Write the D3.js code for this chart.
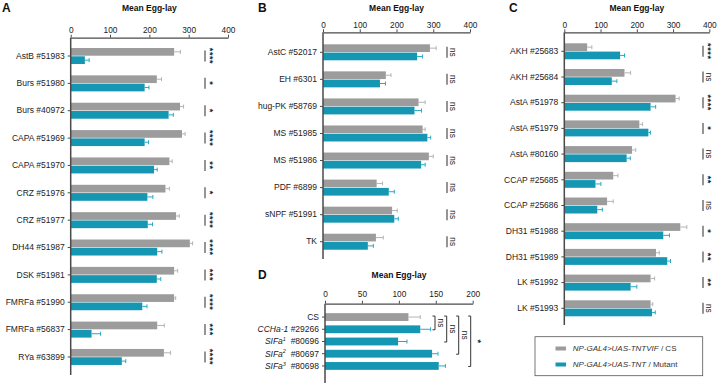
<!DOCTYPE html>
<html>
<head>
<meta charset="utf-8">
<script src="https://cdn.jsdelivr.net/npm/d3@7"></script>
<style>
  body { margin: 0; background: #fff; }
  svg { display: block; font-family: "Liberation Sans", Arial, sans-serif; }
</style>
</head>
<body>
<div id="chart"></div>
<script>
// Données (Mean Egg-lay, contrôle gris vs mutant bleu)
const catsA = ["AstB #51983", "Burs #51980", "Burs #40972", "CAPA #51969", "CAPA #51970", "CRZ #51976",
  "CRZ #51977", "DH44 #51987", "DSK #51981", "FMRFa #51990", "FMRFa #56837", "RYa #63899"]
const ctrlA = [263, 219, 278, 283, 251, 241, 268, 303, 263, 263, 220, 237]
const ctrlErrA = [16, 12, 9, 8, 7, 10, 8, 7, 9, 4, 18, 17]
const mutA = [36, 188, 249, 188, 212, 195, 196, 220, 219, 182, 53, 130]
const mutErrA = [11, 11, 12, 10, 8, 14, 12, 12, 10, 12, 23, 10]
const sigA = ["****", "*", "*", "****", "**", "*", "****", "****", "***", "****", "***", "****"]

const catsB = ["AstC #52017", "EH #6301", "hug-PK #58769", "MS #51985", "MS #51986", "PDF #6899", "sNPF #51991", "TK"]
const ctrlB = [291, 171, 260, 271, 288, 146, 188, 144]
const ctrlErrB = [17, 14, 18, 7, 12, 16, 14, 20]
const mutB = [256, 155, 249, 284, 267, 179, 194, 122]
const mutErrB = [15, 15, 19, 9, 11, 15, 11, 15]
const sigB = ["ns", "ns", "ns", "ns", "ns", "ns", "ns", "ns"]

const catsC = ["AKH #25683", "AKH #25684", "AstA #51978", "AstA #51979", "AstA #80160", "CCAP #25685",
  "CCAP #25686", "DH31 #51988", "DH31 #51989", "LK  #51992", "LK #51993"]
const ctrlC = [63, 166, 307, 207, 187, 135, 118, 320, 253, 238, 238]
const ctrlErrC = [13, 17, 10, 9, 10, 13, 17, 18, 9, 11, 6]
const mutC = [154, 131, 238, 232, 172, 86, 91, 273, 284, 183, 242]
const mutErrC = [12, 14, 14, 6, 10, 15, 14, 17, 9, 17, 9]
const sigC = ["****", "ns", "****", "*", "ns", "**", "ns", "*", "**", "**", "ns"]

// Panneau D : une barre par génotype
const geneD = ["CS", "CCHa-1", "SIFa", "SIFa", "SIFa"]
const supD = ["", "", "1", "2", "3"]
const stockD = ["", " #29266", "  #80696", "  #80697", "  #80698"]
const valD = [113, 129, 99, 145, 154]
const errD = [16, 14, 12, 8, 9]
const bracketD = [{ to: 1, label: "ns" }, { to: 2, label: "ns" }, { to: 3, label: "ns" }, { to: 4, label: "*" }]

const ticks400 = [0, 100, 200, 300, 400]
const ticks200 = [0, 50, 100, 150, 200]

const C = {
  gray: "#9c9c9c", grayErr: "#b4b4b4",
  teal: "#1597b3", tealErr: "#27a9c4",
  axis: "#4a4a4a", text: "#222", sig: "#7a7a7a"
}

const svg = d3.select("#chart").append("svg")
  .attr("width", 718).attr("height", 383).attr("viewBox", "0 0 718 383")

function axisTopFor(g, x, ticks, axisY, pad) {
  const ax = g.append("g")
    .attr("transform", `translate(0,${axisY})`)
    .call(d3.axisTop(x).tickValues(ticks).tickSize(3).tickSizeOuter(0).tickPadding(pad))
  ax.select(".domain").attr("stroke", C.axis).attr("stroke-width", 1.3)
  ax.selectAll(".tick line").attr("stroke", C.axis)
  ax.selectAll(".tick text").attr("font-size", 8.3).attr("fill", C.text)
    .attr("font-family", "Liberation Sans, Arial, sans-serif")
}

function header(letter, lx, ly, title, tx, ty) {
  svg.append("text").attr("x", lx).attr("y", ly)
    .attr("font-size", 12).attr("font-weight", 700).attr("fill", "#111").text(letter)
  svg.append("text").attr("x", tx).attr("y", ty).attr("text-anchor", "middle")
    .attr("font-size", 8.5).attr("font-weight", 700).attr("fill", "#111").text(title)
}

function errBar(g, x, yc, v, e, color) {
  g.append("line").attr("x1", x(v)).attr("x2", x(v + e)).attr("y1", yc).attr("y2", yc)
    .attr("stroke", color).attr("stroke-width", 1)
  g.append("line").attr("x1", x(v + e)).attr("x2", x(v + e)).attr("y1", yc - 2).attr("y2", yc + 2)
    .attr("stroke", color).attr("stroke-width", 1)
}

function sigMark(g, sx, yc, s) {
  g.append("line").attr("x1", sx).attr("x2", sx).attr("y1", yc - 5.5).attr("y2", yc + 5.5)
    .attr("stroke", C.sig).attr("stroke-width", 1.6)
  const isNs = s === "ns"
  g.append("text")
    .attr("transform", `translate(${sx + (isNs ? 3 : 1.5)},${yc}) rotate(90)`)
    .attr("text-anchor", "middle")
    .attr("font-size", isNs ? 8.3 : 9)
    .attr("font-weight", isNs ? 400 : 700)
    .attr("letter-spacing", isNs ? 0 : 0.6)
    .attr("fill", C.text)
    .text(s)
}

// Panneau à deux barres par ligne (A, B, C)
function pairPanel(p) {
  const g = svg.append("g")
  const x = d3.scaleLinear().domain([0, 400]).range([p.x0, p.x400])
  const n = p.cats.length
  const y = d3.scaleBand().domain(p.cats)
    .range([p.firstRow - p.step / 2, p.firstRow - p.step / 2 + n * p.step])
  const inner = d3.scaleBand().domain(["ctrl", "mut"]).range([-8, 8]).paddingInner(0.07)

  header(p.letter, p.lx, 12, "Mean Egg-lay", (p.x0 + p.x400) / 2, 11)
  axisTopFor(g, x, ticks400, p.axisY, p.pad)

  const rows = p.cats.map((c, i) => ({
    c, ctrl: p.ctrl[i], ctrlErr: p.ctrlErr[i], mut: p.mut[i], mutErr: p.mutErr[i], sig: p.sig[i]
  }))

  rows.forEach(d => {
    const yc = y(d.c) + y.bandwidth() / 2
    g.append("rect").attr("x", x(0)).attr("y", yc + inner("ctrl"))
      .attr("width", x(d.ctrl) - x(0)).attr("height", inner.bandwidth()).attr("fill", C.gray)
    g.append("rect").attr("x", x(0)).attr("y", yc + inner("mut"))
      .attr("width", x(d.mut) - x(0)).attr("height", inner.bandwidth()).attr("fill", C.teal)
    errBar(g, x, yc + inner("ctrl") + inner.bandwidth() / 2, d.ctrl, d.ctrlErr, C.grayErr)
    errBar(g, x, yc + inner("mut") + inner.bandwidth() / 2, d.mut, d.mutErr, C.tealErr)
    sigMark(g, p.sigX, yc, d.sig)
  })

  const ly = g.append("g").attr("transform", `translate(${x(0)},0)`)
    .call(d3.axisLeft(y).tickSize(3).tickSizeOuter(0).tickPadding(3))
  ly.select(".domain").remove()
  ly.selectAll(".tick line").attr("stroke", C.axis)
  ly.selectAll(".tick text").attr("font-size", 8.5).attr("fill", C.text)
    .attr("font-family", "Liberation Sans, Arial, sans-serif")
  g.append("line").attr("x1", x(0)).attr("x2", x(0)).attr("y1", p.axisY).attr("y2", p.axisBottom)
    .attr("stroke", C.axis).attr("stroke-width", 1.5)
}

pairPanel({ letter: "A", lx: 2, cats: catsA, ctrl: ctrlA, ctrlErr: ctrlErrA, mut: mutA, mutErr: mutErrA, sig: sigA,
  x0: 70.7, x400: 228, axisY: 37.7, pad: 2, firstRow: 56, step: 27.36, axisBottom: 375, sigX: 205 })
pairPanel({ letter: "B", lx: 258, cats: catsB, ctrl: ctrlB, ctrlErr: ctrlErrB, mut: mutB, mutErr: mutErrB, sig: sigB,
  x0: 323, x400: 470, axisY: 32.3, pad: 1, firstRow: 52.3, step: 27.06, axisBottom: 259, sigX: 447 })
pairPanel({ letter: "C", lx: 509, cats: catsC, ctrl: ctrlC, ctrlErr: ctrlErrC, mut: mutC, mutErr: mutErrC, sig: sigC,
  x0: 564.3, x400: 709.3, axisY: 32.3, pad: 1, firstRow: 51.3, step: 25.7, axisBottom: 325, sigX: 703 })

// --- Panneau D ---
{
  const g = svg.append("g")
  const x = d3.scaleLinear().domain([0, 200]).range([325, 472.7])
  const idx = valD.map((_, i) => i)
  const step = 13.1
  const y = d3.scaleBand().domain(idx).range([315.3 - step / 2, 315.3 - step / 2 + idx.length * step]).padding(0.36)
  const yc = i => y(i) + y.bandwidth() / 2

  header("D", 258, 279, "Mean Egg-lay", 399, 278)
  axisTopFor(g, x, ticks200, 303.7, 4)

  idx.forEach(i => {
    const isCtrl = i === 0
    g.append("rect").attr("x", x(0)).attr("y", y(i))
      .attr("width", x(valD[i]) - x(0)).attr("height", y.bandwidth())
      .attr("fill", isCtrl ? C.gray : C.teal)
    errBar(g, x, yc(i), valD[i], errD[i], isCtrl ? C.grayErr : C.tealErr)
  })

  const ly = g.append("g").attr("transform", `translate(${x(0)},0)`)
    .call(d3.axisLeft(y).tickSize(3).tickSizeOuter(0).tickFormat(""))
  ly.select(".domain").remove()
  ly.selectAll(".tick line").attr("stroke", C.axis)
  g.append("line").attr("x1", x(0)).attr("x2", x(0)).attr("y1", 303.7).attr("y2", 383)
    .attr("stroke", C.axis).attr("stroke-width", 1.5)

  idx.forEach(i => {
    const t = g.append("text").attr("x", x(0) - 6).attr("y", yc(i)).attr("dy", "0.34em")
      .attr("text-anchor", "end").attr("font-size", 8.5).attr("fill", C.text)
    t.append("tspan").attr("font-style", i === 0 ? "normal" : "italic").text(geneD[i])
    if (supD[i]) t.append("tspan").attr("font-style", "italic").attr("font-size", 5.5)
      .attr("dy", "-0.6em").text(supD[i])
    if (stockD[i]) t.append("tspan").attr("dy", supD[i] ? "0.39em" : 0).text(stockD[i])
      .attr("xml:space", "preserve")
  })

  // Crochets de comparaison au CS
  const bx = [435, 446.7, 458.7, 470.7]
  bracketD.forEach((b, k) => {
    const y1 = yc(0) - 1, y2 = yc(b.to) + 0.5
    g.append("path")
      .attr("d", `M${bx[k] - 2.5},${y1}H${bx[k]}V${y2}H${bx[k] - 2.5}`)
      .attr("fill", "none").attr("stroke", "#333").attr("stroke-width", 1)
    const my = (y1 + y2) / 2
    const isNs = b.label === "ns"
    g.append("text")
      .attr("transform", `translate(${bx[k] + (isNs ? 3 : 4)},${my}) rotate(90)`)
      .attr("text-anchor", "middle").attr("font-size", isNs ? 8.3 : 9)
      .attr("font-weight", isNs ? 400 : 700)
      .attr("fill", C.text).text(b.label)
  })
}

// --- Légende ---
{
  const lg = svg.append("g")
  lg.append("rect").attr("x", 535).attr("y", 336.7).attr("width", 167.7).attr("height", 39)
    .attr("fill", "none").attr("stroke", "#555").attr("stroke-width", 0.8)
  const items = [
    { color: C.gray, it: "NP-GAL4>UAS-TNTVIF", rest: " / CS", y: 348.5 },
    { color: C.teal, it: "NP-GAL4>UAS-TNT", rest: " / Mutant", y: 364.5 }
  ]
  items.forEach(d => {
    lg.append("rect").attr("x", 555.5).attr("y", d.y - 2).attr("width", 10.5).attr("height", 4).attr("fill", d.color)
    const t = lg.append("text").attr("x", 572.7).attr("y", d.y).attr("dy", "0.35em")
      .attr("font-size", 8).attr("fill", "#333")
    t.append("tspan").attr("font-style", "italic").text(d.it)
    t.append("tspan").attr("xml:space", "preserve").text(d.rest)
  })
}
</script>
</body>
</html>
